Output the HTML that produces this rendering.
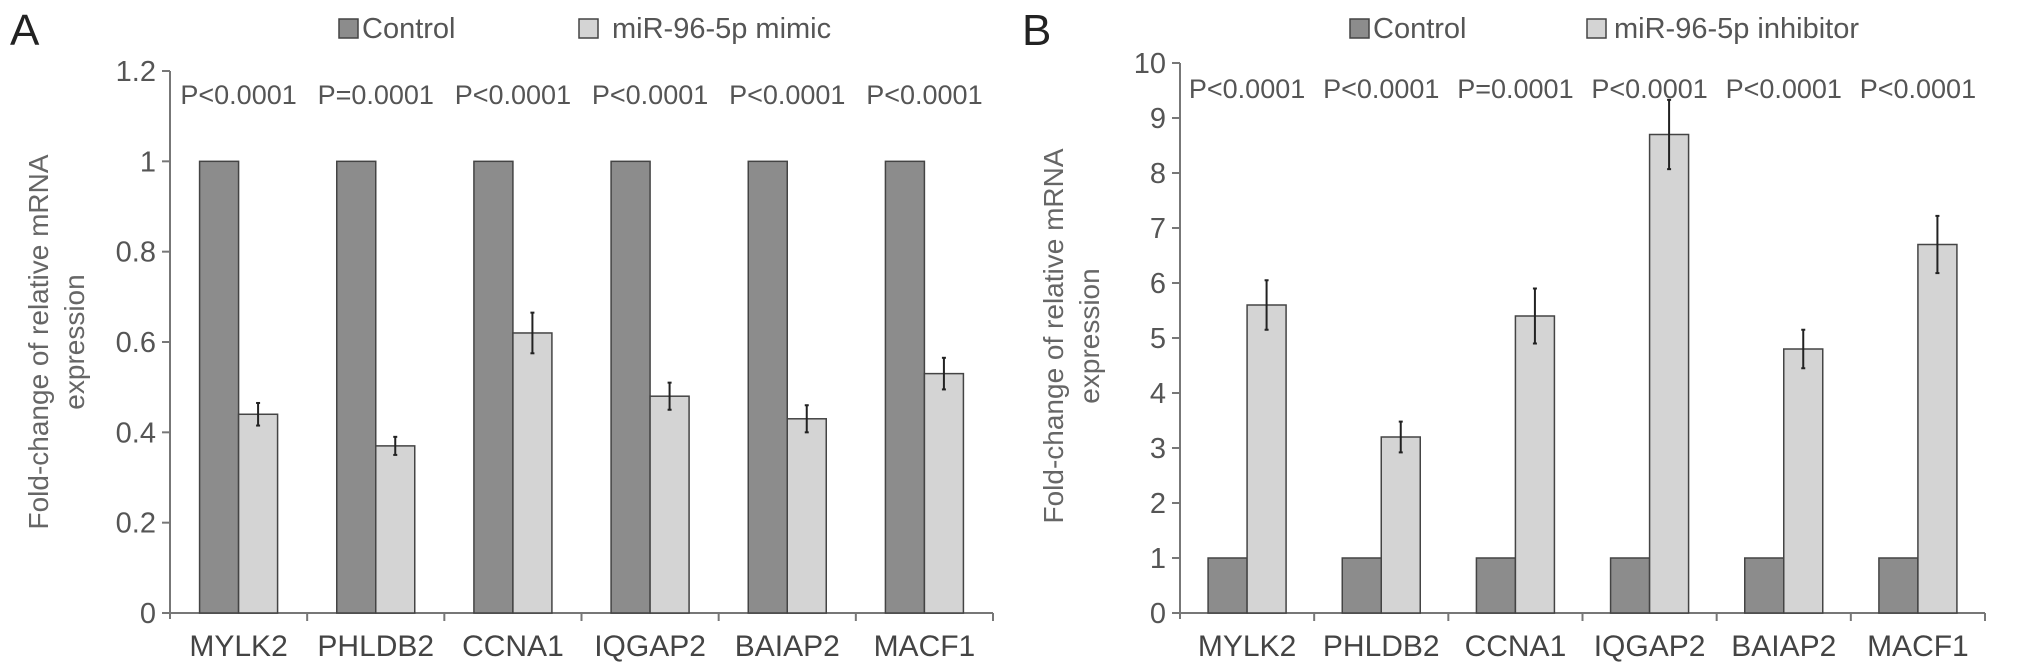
<!DOCTYPE html>
<html><head><meta charset="utf-8">
<style>
html,body{margin:0;padding:0;background:#fff;}
svg{display:block;font-family:"Liberation Sans",sans-serif;}
</style></head>
<body>
<svg id="fig" width="2031" height="669" viewBox="0 0 2031 669"></svg>
<script>
const categories = ["MYLK2","PHLDB2","CCNA1","IQGAP2","BAIAP2","MACF1"];
const aControl = [1,1,1,1,1,1];
const aMimic = [0.44,0.37,0.62,0.48,0.43,0.53];
const aMimicErr = [0.025,0.02,0.045,0.03,0.03,0.035];
const aPvals = ["P<0.0001","P=0.0001","P<0.0001","P<0.0001","P<0.0001","P<0.0001"];
const aTicks = ["0","0.2","0.4","0.6","0.8","1","1.2"];
const aTickVals = [0,0.2,0.4,0.6,0.8,1,1.2];
const bControl = [1,1,1,1,1,1];
const bInhib = [5.6,3.2,5.4,8.7,4.8,6.7];
const bInhibErr = [0.45,0.28,0.5,0.63,0.35,0.52];
const bPvals = ["P<0.0001","P<0.0001","P=0.0001","P<0.0001","P<0.0001","P<0.0001"];
const bTickVals = [0,1,2,3,4,5,6,7,8,9,10];
const bTicks = ["0","1","2","3","4","5","6","7","8","9","10"];

const NS="http://www.w3.org/2000/svg";
const svg=document.getElementById('fig');
function mk(tag,attrs,parent,text){const e=document.createElementNS(NS,tag);for(const k in attrs)e.setAttribute(k,attrs[k]);if(text!==undefined)e.textContent=text;(parent||svg).appendChild(e);return e;}

function drawPanel(cfg,ctrl,treat,err,pv,tickVals,tickLabels){
  const g=mk('g',{});
  
  
  const y=v=>cfg.y0-(v-0)*(cfg.y0-cfg.yTop)/cfg.max;
  const catW=(cfg.xEnd-cfg.x0)/categories.length;
  const L=mk('text',{x:cfg.letterX,y:45,'font-size':44,fill:'#222'},g,cfg.letter);
  
  
  const lg=mk('g',{},g);
  
  
  const e1=mk('g',{},lg);
  
  
  mk('rect',{x:cfg.leg1,y:19,width:19,height:19,fill:'#8c8c8c',stroke:'#444','stroke-width':1.5},e1);
  mk('text',{x:cfg.leg1+23,y:38,'font-size':29,fill:'#555'},e1,'Control');
  const e2=mk('g',{},lg);
  
  
  mk('rect',{x:cfg.leg2,y:19,width:19,height:19,fill:'#d4d4d4',stroke:'#444','stroke-width':1.5},e2);
  mk('text',{x:cfg.leg2+cfg.leg2gap,y:38,'font-size':29,fill:'#555'},e2,cfg.treatLabel);
  const yt=mk('text',{transform:`translate(${cfg.titleX},${cfg.titleY}) rotate(-90)`,'text-anchor':'middle','font-size':28,fill:'#666'},g);
  
  
  mk('tspan',{x:0,dy:0},yt,'Fold-change of relative mRNA');
  mk('tspan',{x:0,dy:36},yt,'expression');
  const ax=mk('line',{x1:cfg.x0,y1:cfg.yTop,x2:cfg.x0,y2:cfg.y0+6,stroke:'#777','stroke-width':2},g);
  
  
  const xa=mk('line',{x1:cfg.x0-8,y1:cfg.y0,x2:cfg.xEnd,y2:cfg.y0,stroke:'#777','stroke-width':2},g);
  
  
  tickVals.forEach((v,i)=>{
    mk('line',{x1:cfg.x0-8,y1:y(v),x2:cfg.x0,y2:y(v),stroke:'#777','stroke-width':2},g);
    const t=mk('text',{x:cfg.x0-14,y:y(v)+10,'text-anchor':'end','font-size':29,fill:'#555'},g,tickLabels[i]);
    
    
  });
  for(let i=1;i<=categories.length;i++){
    mk('line',{x1:cfg.x0+i*catW,y1:cfg.y0,x2:cfg.x0+i*catW,y2:cfg.y0+8,stroke:'#777','stroke-width':2},g);
  }
  categories.forEach((c,i)=>{
    const cx=cfg.x0+i*catW+catW/2;
    const bw=39;
    const b1=mk('rect',{x:cx-bw,y:y(ctrl[i]),width:bw,height:cfg.y0-y(ctrl[i]),fill:'#8c8c8c',stroke:'#444','stroke-width':1.5},g);
    
    
    const b2=mk('rect',{x:cx,y:y(treat[i]),width:bw,height:cfg.y0-y(treat[i]),fill:'#d4d4d4',stroke:'#444','stroke-width':1.5},g);
    
    
    const ex=cx+bw/2;
    const eb=mk('g',{stroke:'#222','stroke-width':2},g);
    
    
    mk('line',{x1:ex,y1:y(treat[i]+err[i]),x2:ex,y2:y(treat[i]-err[i])},eb);
    mk('line',{x1:ex-2,y1:y(treat[i]+err[i]),x2:ex+2,y2:y(treat[i]+err[i])},eb);
    mk('line',{x1:ex-2,y1:y(treat[i]-err[i]),x2:ex+2,y2:y(treat[i]-err[i])},eb);
    const lab=mk('text',{x:cx,y:cfg.y0+43,'text-anchor':'middle','font-size':30,fill:'#444'},g,c);
    
    
    const p=mk('text',{x:cx,y:cfg.pY,'text-anchor':'middle','font-size':27,fill:'#555'},g,pv[i]);
    
    
  });
}
drawPanel({name:'panel-a',letter:'A',letterX:10,x0:170,xEnd:993,y0:613,yTop:71,max:1.2,pY:104,leg1:339,leg2:579,leg2gap:33,treatLabel:'miR-96-5p mimic',titleX:48,titleY:342},
  aControl,aMimic,aMimicErr,aPvals,aTickVals,aTicks);
drawPanel({name:'panel-b',letter:'B',letterX:1022,x0:1180,xEnd:1985,y0:613,yTop:63,max:10,pY:98,leg1:1350,leg2:1587,leg2gap:27,treatLabel:'miR-96-5p inhibitor',titleX:1063,titleY:336},
  bControl,bInhib,bInhibErr,bPvals,bTickVals,bTicks);
</script>
</body></html>
